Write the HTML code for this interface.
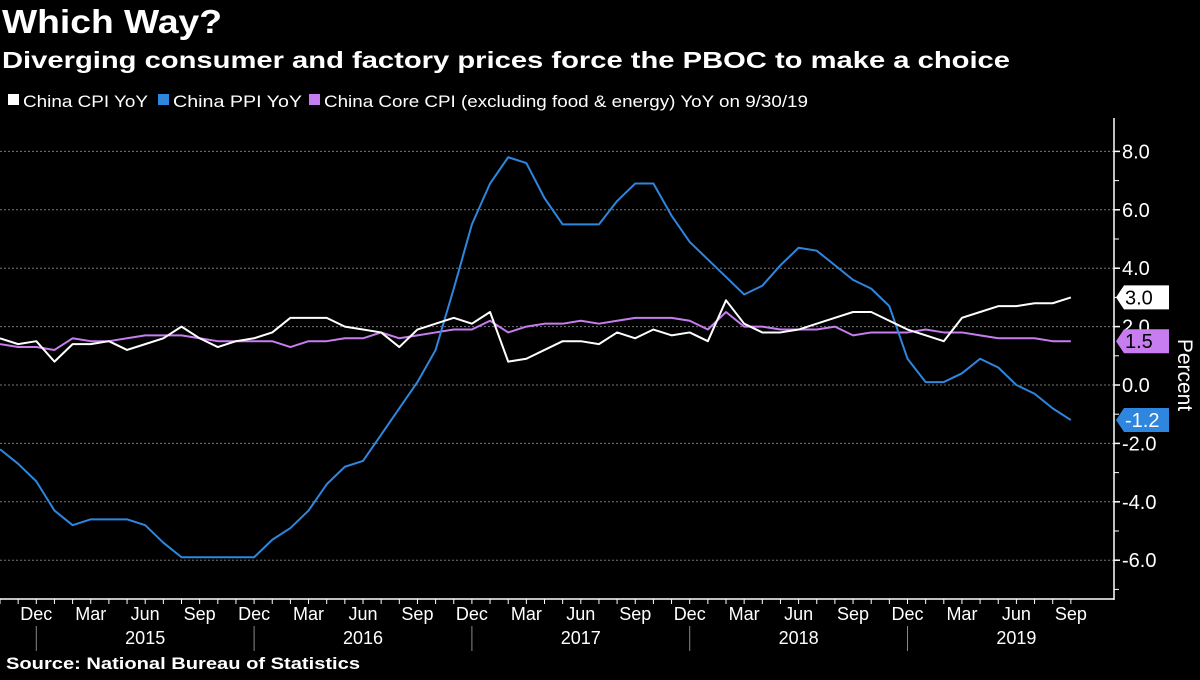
<!DOCTYPE html>
<html><head><meta charset="utf-8">
<style>
html,body{margin:0;padding:0;background:#000;}
body{width:1200px;height:675px;overflow:hidden;font-family:"Liberation Sans",sans-serif;color:#fff;}
svg text{font-family:"Liberation Sans",sans-serif;}
</style></head>
<body>
<svg id="chart" width="1200" height="675" viewBox="0 0 1200 675">
  <text x="2" y="33" font-size="33" font-weight="bold" fill="#fff" textLength="220" lengthAdjust="spacingAndGlyphs">Which Way?</text>
  <text x="2" y="68" font-size="23" font-weight="bold" fill="#fff" textLength="1008" lengthAdjust="spacingAndGlyphs">Diverging consumer and factory prices force the PBOC to make a choice</text>
  <g>
    <rect x="8" y="94" width="11" height="11" fill="#fff"/>
    <text x="23" y="107" font-size="17" fill="#fff" textLength="125" lengthAdjust="spacingAndGlyphs">China CPI YoY</text>
    <rect x="158" y="94" width="11" height="11" fill="#2e86de"/>
    <text x="173" y="107" font-size="17" fill="#fff" textLength="129" lengthAdjust="spacingAndGlyphs">China PPI YoY</text>
    <rect x="309" y="94" width="11" height="11" fill="#c77df0"/>
    <text x="324" y="107" font-size="17" fill="#fff" textLength="484" lengthAdjust="spacingAndGlyphs">China Core CPI (excluding food &amp; energy) YoY on 9/30/19</text>
  </g>
  <g id="grid"></g>
  <g id="series"></g>
  <g id="axes"></g>
  <text transform="translate(1178,375) rotate(90)" font-size="21" fill="#fff" text-anchor="middle">Percent</text>
  <text x="6" y="669" font-size="17" font-weight="bold" fill="#fff" textLength="354" lengthAdjust="spacingAndGlyphs">Source: National Bureau of Statistics</text>
</svg>
<script>
const cpi = [1.6,1.4,1.5, 0.8,1.4,1.4,1.5,1.2,1.4,1.6,2.0,1.6,1.3,1.5,1.6, 1.8,2.3,2.3,2.3,2.0,1.9,1.8,1.3,1.9,2.1,2.3,2.1, 2.5,0.8,0.9,1.2,1.5,1.5,1.4,1.8,1.6,1.9,1.7,1.8, 1.5,2.9,2.1,1.8,1.8,1.9,2.1,2.3,2.5,2.5,2.2,1.9, 1.7,1.5,2.3,2.5,2.7,2.7,2.8,2.8,3.0];
const ppi = [-2.2,-2.7,-3.3, -4.3,-4.8,-4.6,-4.6,-4.6,-4.8,-5.4,-5.9,-5.9,-5.9,-5.9,-5.9, -5.3,-4.9,-4.3,-3.4,-2.8,-2.6,-1.7,-0.8,0.1,1.2,3.3,5.5, 6.9,7.8,7.6,6.4,5.5,5.5,5.5,6.3,6.9,6.9,5.8,4.9, 4.3,3.7,3.1,3.4,4.1,4.7,4.6,4.1,3.6,3.3,2.7,0.9, 0.1,0.1,0.4,0.9,0.6,0.0,-0.3,-0.8,-1.2];
const core = [1.4,1.3,1.3, 1.2,1.6,1.5,1.5,1.6,1.7,1.7,1.7,1.6,1.5,1.5,1.5, 1.5,1.3,1.5,1.5,1.6,1.6,1.8,1.6,1.7,1.8,1.9,1.9, 2.2,1.8,2.0,2.1,2.1,2.2,2.1,2.2,2.3,2.3,2.3,2.2, 1.9,2.5,2.0,2.0,1.9,1.9,1.9,2.0,1.7,1.8,1.8,1.8, 1.9,1.8,1.8,1.7,1.6,1.6,1.6,1.5,1.5];
const yTicks = [8,6,4,2,0,-2,-4,-6];
const monthLabels = ["Dec","Mar","Jun","Sep","Dec","Mar","Jun","Sep","Dec","Mar","Jun","Sep","Dec","Mar","Jun","Sep","Dec","Mar","Jun","Sep"];
const monthLabelIdx = [2,5,8,11,14,17,20,23,26,29,32,35,38,41,44,47,50,53,56,59];
const yearLabels = ["2015","2016","2017","2018","2019"];
const yearLabelIdx = [8,20,32,44,56];
const yearDividerIdx = [2,14,26,38,50];

const NS = "http://www.w3.org/2000/svg";
const X = i => i * 18.15;
const Y = v => 385 - v * 29.2;
function mk(tag, attrs, parent){const e=document.createElementNS(NS,tag);for(const k in attrs)e.setAttribute(k,attrs[k]);parent.appendChild(e);return e;}
const grid=document.getElementById('grid'), series=document.getElementById('series'), axes=document.getElementById('axes');

yTicks.forEach(v=>{
  const l=mk('line',{x1:0,x2:1114,y1:Y(v),y2:Y(v),stroke:'#777','stroke-width':1,'stroke-dasharray':'2,2'},grid);
  
  
  const t=mk('line',{x1:1114,x2:1120,y1:Y(v),y2:Y(v),stroke:'#fff','stroke-width':1.5},axes);
  
  
  const m=mk('line',{x1:1114,x2:1119,y1:Y(v-1),y2:Y(v-1),stroke:'#fff','stroke-width':1},axes);
  
  
  const tx=mk('text',{x:1122,y:Y(v)+7,'font-size':20,fill:'#fff'},axes);
  tx.textContent=(v<0?'-':'')+Math.abs(v).toFixed(1);
  
  
});
const yax=mk('line',{x1:1114,x2:1114,y1:118,y2:600,stroke:'#fff','stroke-width':1.5},axes);


const xax=mk('line',{x1:0,x2:1114,y1:599,y2:599,stroke:'#fff','stroke-width':1.5},axes);


for(let i=0;i<cpi.length;i++){
  const t=mk('line',{x1:X(i),x2:X(i),y1:599,y2:604,stroke:'#fff','stroke-width':1},axes);
  
  
}
monthLabels.forEach((s,k)=>{
  const t=mk('text',{x:X(monthLabelIdx[k]),y:620,'font-size':18,fill:'#fff','text-anchor':'middle'},axes);
  t.textContent=s;
  
  
});
yearLabels.forEach((s,k)=>{
  const t=mk('text',{x:X(yearLabelIdx[k]),y:644,'font-size':18,fill:'#fff','text-anchor':'middle'},axes);
  t.textContent=s;
  
  
});
yearDividerIdx.forEach(i=>{
  const d=mk('line',{x1:X(i),x2:X(i),y1:626,y2:651,stroke:'#888','stroke-width':1},axes);
  
  
});

function line(data,color,name){
  const p=mk('polyline',{points:data.map((v,i)=>X(i)+','+Y(v)).join(' '),fill:'none',stroke:color,'stroke-width':2,'stroke-linejoin':'round'},series);
  
  
}
line(core,'#c77df0','core-cpi-line');
line(ppi,'#2e86de','ppi-line');
line(cpi,'#ffffff','cpi-line');

function tag(v,bg,fg,name){
  const y=Y(v);
  const g=mk('g',{},axes);
  
  
  mk('polygon',{points:`1116,${y} 1124,${y-12} 1169,${y-12} 1169,${y+12} 1124,${y+12}`,fill:bg},g);
  const t=mk('text',{x:1125,y:y+7,'font-size':20,fill:fg},g);
  t.textContent=(v<0?'-':'')+Math.abs(v).toFixed(1);
}
tag(cpi[cpi.length-1],'#ffffff','#000','cpi-last-value-tag');
tag(core[core.length-1],'#c77df0','#000','core-last-value-tag');
tag(ppi[ppi.length-1],'#2e86de','#fff','ppi-last-value-tag');
</script>
</body></html>
